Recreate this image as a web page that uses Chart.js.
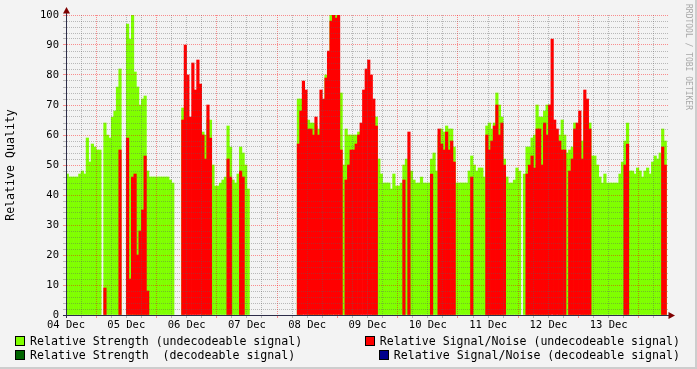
<!DOCTYPE html>
<html>
<head>
<meta charset="utf-8">
<script src="https://cdn.jsdelivr.net/npm/chart.js@4.4.1/dist/chart.umd.min.js"></script>
<style>
  html, body { margin: 0; padding: 0; background: #f3f3f3; }
  #wrap { position: relative; width: 697px; height: 369px; overflow: hidden; background: #f3f3f3; }
  #frame { position: absolute; left: 0; top: 0; width: 695px; height: 367px; border-right: 2px solid #cdcdcd; border-bottom: 2px solid #cdcdcd; pointer-events: none; }
  canvas { position: absolute; left: 0; top: 0; }
  .lg { position: absolute; display: flex; align-items: center; height: 12px;
        font-family: "DejaVu Sans Mono", monospace; font-size: 11.6px; line-height: 12px;
        white-space: pre; color: #000; }
  .sq { box-sizing: border-box; width: 10px; height: 10px; border: 1px solid #000; margin-right: 5px; flex: none; }
  #wm { position: absolute; left: 684px; top: 4px; writing-mode: vertical-rl;
        font-family: "DejaVu Sans Mono", monospace; font-size: 8px; line-height: 8px;
        color: #a8a8a8; white-space: pre; }
</style>
</head>
<body>
<div id="wrap">
  <canvas id="c" width="697" height="369"></canvas>
  <div id="frame"></div>
  <div class="lg" style="left:15px; top:335px;"><span class="sq" style="background:#80ff00"></span><span>Relative Strength (undecodeable signal)</span></div>
  <div class="lg" style="left:15px; top:349px;"><span class="sq" style="background:#006400"></span><span>Relative Strength  (decodeable signal)</span></div>
  <div class="lg" style="right:17px; top:335px;"><span class="sq" style="background:#ff0000"></span><span>Relative Signal/Noise (undecodeable signal)</span></div>
  <div class="lg" style="right:17px; top:349px;"><span class="sq" style="background:#00008b"></span><span>Relative Signal/Noise (decodeable signal)</span></div>
  <div id="wm">RRDTOOL / TOBI OETIKER</div>
</div>
<script>
// Day labels on the time axis (one per 24 hours, starting 04 Dec 00:00)
const dayLabels = ['04 Dec','05 Dec','06 Dec','07 Dec','08 Dec','09 Dec','10 Dec','11 Dec','12 Dec','13 Dec'];

// Hourly values (240 hours, 04 Dec 00:00 .. 13 Dec 23:00), null = no sample
const strengthUndecodeable = [
  // 04 Dec
  47,46,46,46,46,47,48,47,59,51,57,56,55,55,null,64,60,59,66,68,76,82,null,null,
  // 05 Dec
  97,92,100,81,76,70,72,73,48,46,46,46,46,46,46,46,46,45,44,null,null,null,69,null,
  // 06 Dec
  63,null,null,null,null,null,61,60,65,65,50,43,43,44,45,46,63,56,45,44,47,56,54,50,
  // 07 Dec
  42,null,null,null,null,null,null,null,null,null,null,null,null,null,null,null,null,null,null,null,72,72,null,null,
  // 08 Dec
  65,64,64,63,62,null,70,80,83,100,null,100,null,74,50,62,60,60,60,60,61,null,null,null,
  // 09 Dec
  null,null,66,66,52,47,44,44,44,42,47,43,43,44,50,52,48,48,45,44,44,46,44,44,
  // 10 Dec
  44,52,54,48,60,62,61,63,62,62,56,44,44,44,44,44,48,53,50,48,49,49,46,63,
  // 11 Dec
  64,62,64,74,70,66,52,46,44,44,45,49,48,null,47,56,56,59,60,70,66,66,68,70,
  // 12 Dec
  70,null,62,null,60,65,60,54,55,56,64,62,null,58,68,66,64,53,53,50,46,44,47,44,
  // 13 Dec
  44,44,44,44,47,51,58,64,48,48,47,49,48,46,48,49,47,51,53,52,54,62,58,null
];

const snrUndecodeable = [
  // 04 Dec
  null,null,null,null,null,null,null,null,null,null,null,null,null,null,null,9,null,null,null,null,null,55,null,null,
  // 05 Dec
  59,12,46,47,20,28,35,53,8,null,null,null,null,null,null,null,null,null,null,null,null,null,65,90,
  // 06 Dec
  80,66,84,75,85,77,60,52,70,59,null,null,null,null,null,null,52,46,null,null,null,48,46,null,
  // 07 Dec
  null,null,null,null,null,null,null,null,null,null,null,null,null,null,null,null,null,null,null,null,57,68,78,75,
  // 08 Dec
  62,62,60,66,60,75,72,79,88,98,100,99,100,55,null,45,50,55,55,57,60,64,75,82,
  // 09 Dec
  85,80,72,63,null,null,null,null,null,null,null,null,null,null,45,null,61,null,null,null,null,null,null,null,
  // 10 Dec
  null,47,null,null,62,57,55,61,55,58,51,null,null,null,null,null,null,46,null,null,null,null,null,60,
  // 11 Dec
  55,58,63,70,60,64,50,null,null,null,null,null,null,null,null,47,50,53,49,62,62,50,64,60,
  // 12 Dec
  70,92,65,62,58,55,55,null,48,52,62,64,68,52,75,72,62,null,null,null,null,null,null,null,
  // 13 Dec
  null,null,null,null,null,null,50,57,null,null,null,null,null,null,null,null,null,null,null,null,null,56,50,null
];

// No decodeable samples in this period
const strengthDecodeable = [];
const snrDecodeable = [];

const FONT = "'DejaVu Sans Mono', monospace";
const AXIS = '#2c2c48';
const MINOR = 'rgba(95,95,95,0.4)';
const MAJOR = 'rgba(255,0,0,0.42)';

const hourCenters = strengthUndecodeable.map((_, i) => i + 0.5);

const arrows = {
  id: 'arrows',
  afterDraw(chart) {
    const { ctx, chartArea: a } = chart;
    ctx.save();
    ctx.strokeStyle = AXIS;
    ctx.lineWidth = 1;
    const lx = Math.round(a.left) + 0.5;
    const by = Math.round(a.bottom) + 0.5;
    ctx.beginPath(); ctx.moveTo(lx, a.top); ctx.lineTo(lx, a.top - 3); ctx.stroke();
    ctx.beginPath(); ctx.moveTo(lx, a.bottom); ctx.lineTo(lx, a.bottom + 3); ctx.stroke();
    ctx.beginPath(); ctx.moveTo(a.left - 3, by); ctx.lineTo(a.left, by); ctx.stroke();
    ctx.fillStyle = '#7f0000';
    ctx.beginPath();
    ctx.moveTo(lx - 3.5, a.top - 1.5);
    ctx.lineTo(lx + 3.5, a.top - 1.5);
    ctx.lineTo(lx, a.top - 8);
    ctx.closePath(); ctx.fill();
    ctx.beginPath();
    ctx.moveTo(a.right - 0.5, by - 3.5);
    ctx.lineTo(a.right - 0.5, by + 3.5);
    ctx.lineTo(a.right + 6, by);
    ctx.closePath(); ctx.fill();
    ctx.restore();
  }
};

new Chart(document.getElementById('c'), {
  type: 'bar',
  data: {
    labels: hourCenters,
    datasets: [
      { label: 'Relative Signal/Noise (undecodeable signal)', data: snrUndecodeable,
        backgroundColor: '#ff0000', order: 0 },
      { label: 'Relative Strength (undecodeable signal)', data: strengthUndecodeable,
        backgroundColor: '#80ff00', order: 1 },
      { label: 'Relative Strength  (decodeable signal)', data: strengthDecodeable,
        backgroundColor: '#006400', order: 2 },
      { label: 'Relative Signal/Noise (decodeable signal)', data: snrDecodeable,
        backgroundColor: '#00008b', order: 3 }
    ]
  },
  options: {
    responsive: false,
    animation: false,
    devicePixelRatio: 1,
    events: [],
    layout: { padding: { left: 0, top: 15, right: 28, bottom: 34 } },
    datasets: { bar: { grouped: false, barPercentage: 1, categoryPercentage: 1, borderWidth: 0 } },
    plugins: { legend: { display: false }, tooltip: { enabled: false }, title: { display: false } },
    scales: {
      x: {
        type: 'linear', min: 0, max: 240, offset: false,
        afterBuildTicks: s => { const t = []; for (let h = 0; h < 240; h += 6) t.push({ value: h }); s.ticks = t; },
        afterFit: s => { s.height = 20; },
        ticks: {
          autoSkip: false, maxRotation: 0, minRotation: 0, padding: 1, color: '#000',
          font: { family: FONT, size: 10.5 },
          callback: v => (v % 24 === 0 ? dayLabels[v / 24] : '')
        },
        grid: {
          z: 1, offset: false, lineWidth: 1, tickLength: 3, display: true, drawOnChartArea: true, drawTicks: true,
          color: c => (c.tick && c.tick.value % 24 === 12 ? MAJOR : MINOR),
          tickColor: c => (c.tick && c.tick.value % 24 === 12 ? MAJOR : MINOR)
        },
        border: { display: true, color: AXIS, width: 1, dash: [1, 1], z: 2 }
      },
      y: {
        min: 0, max: 100,
        afterBuildTicks: s => { const t = []; for (let v = 0; v <= 100; v += 2) t.push({ value: v }); s.ticks = t; },
        afterFit: s => { s.width = 66; },
        ticks: {
          autoSkip: false, padding: 4, color: '#000',
          font: { family: FONT, size: 10.5 },
          callback: v => (v % 10 === 0 ? String(v) : '')
        },
        grid: {
          z: 1, lineWidth: 1, tickLength: 3, display: true, drawOnChartArea: true, drawTicks: true,
          color: c => (c.tick && c.tick.value % 10 === 0 ? MAJOR : MINOR),
          tickColor: c => (c.tick && c.tick.value % 10 === 0 ? MAJOR : MINOR)
        },
        border: { display: true, color: AXIS, width: 1, dash: [1, 1], z: 2 },
        title: {
          display: true, text: 'Relative Quality', color: '#000',
          font: { family: FONT, size: 11.6 }, padding: { top: 4, bottom: 0 }
        }
      }
    }
  },
  plugins: [arrows]
});
</script>
</body>
</html>
